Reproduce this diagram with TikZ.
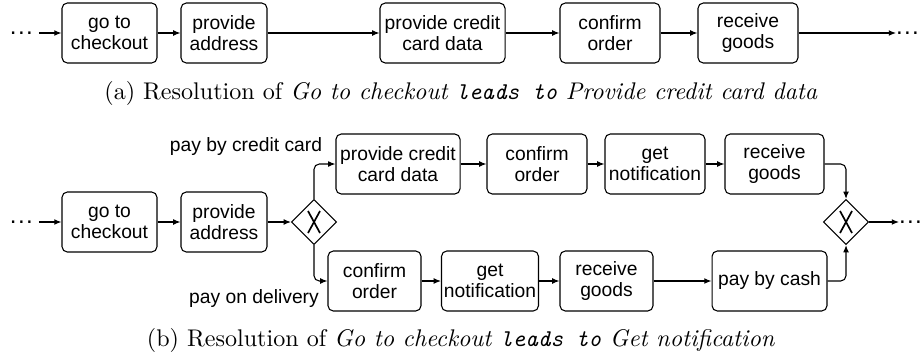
\documentclass[tikz,border=0pt]{standalone}
\usepackage{fontspec}
\newfontfamily\boxfont{Liberation Sans}
\usetikzlibrary{shapes.geometric,arrows.meta,calc}

\newcommand\moredots{.\kern0.55pt.\kern0.55pt.}

\tikzset{
  task/.style={draw, rounded corners=2.2pt, align=center, minimum height=24.9pt, inner sep=1pt,
    font=\boxfont\fontsize{8}{9}\selectfont},
  gate/.style={draw, diamond, minimum width=18.7pt, minimum height=18.7pt, inner sep=0pt,
    path picture={
      \draw[line width=0.7pt] ($(path picture bounding box.center)+(-6,-11)$) -- ($(path picture bounding box.center)+(6,11)$);
      \draw[line width=0.7pt] ($(path picture bounding box.center)+(6,-11)$) -- ($(path picture bounding box.center)+(-6,11)$);
    }},
  flow/.style={-{Latex[length=3pt,width=2.4pt]}, rounded corners=2.2pt},
  dots/.style={inner sep=0pt, outer sep=0pt, anchor=base west, font=\boxfont\fontsize{10}{12}\selectfont},
  cond/.style={font=\boxfont\fontsize{8}{9}\selectfont}
}

\begin{document}
\begin{tikzpicture}[x=0.415pt,y=-0.415pt,line width=0.45pt]
\useasboundingbox (0,0) rectangle (922,360);

% (a) one path
\node[dots] (ina) at (10,34.3) {\moredots};
\node[task, minimum width=39.4pt] (goa) at (109.5,33) {go to\\checkout};
\node[task, minimum width=35.7pt] (pra) at (224,33) {provide\\address};
\node[task, minimum width=51.9pt] (cca) at (442.5,33) {provide credit\\card data};
\node[task, minimum width=41.5pt] (coa) at (610,33) {confirm\\order};
\node[task, minimum width=41.5pt] (rga) at (748,33) {receive\\goods};
\node[dots] (outa) at (896,34.3) {\moredots};

\draw[flow, shorten <=2.5pt] (ina.east |- goa) -- (goa);
\draw[flow] (goa) -- (pra);
\draw[flow] (pra) -- (cca);
\draw[flow] (cca) -- (coa);
\draw[flow] (coa) -- (rga);
\draw[flow] (rga) -- (rga -| outa.west);

\node (capa) at (461,93) {(a) Resolution of \textit{Go to checkout \texttt{leads to} Provide credit card data}};

% (b) split on payment
\node[dots] (inb) at (10,223.3) {\moredots};
\node[task, minimum width=39.4pt] (gob) at (109.5,222) {go to\\checkout};
\node[task, minimum width=35.7pt] (prb) at (224,222) {provide\\address};
\node[gate] (split) at (314,222) {};

\node[task, minimum width=51.5pt] (ccb) at (398,164) {provide credit\\card data};
\node[task, minimum width=41.5pt] (cob) at (537,164) {confirm\\order};
\node[task, minimum width=41.5pt] (ntb) at (655,164) {get\\notification};
\node[task, minimum width=41.1pt] (rgb) at (774.5,164) {receive\\goods};

\node[task, minimum width=38.6pt] (cod) at (374.5,281) {confirm\\order};
\node[task, minimum width=39pt] (ntd) at (490,281) {get\\notification};
\node[task, minimum width=38.6pt] (rgd) at (606.5,281) {receive\\goods};
\node[task, minimum width=47.7pt] (cash) at (769.5,281) {pay by cash};

\node[gate] (merge) at (846,222) {};
\node[dots] (outb) at (899,223.3) {\moredots};

\node[cond] (lcc) at (246,147) {pay by credit card};
\node[cond] (ldel) at (254,299) {pay on delivery};

\draw[flow, shorten <=2.5pt] (inb.east |- gob) -- (gob);
\draw[flow] (gob) -- (prb);
\draw[flow] (prb) -- (split);
\draw[flow] (split.north) |- (ccb);
\draw[flow] (split.south) |- (cod);
\draw[flow] (ccb) -- (cob);
\draw[flow] (cob) -- (ntb);
\draw[flow] (ntb) -- (rgb);
\draw[flow] (rgb) -| (merge.north);
\draw[flow] (cod) -- (ntd);
\draw[flow] (ntd) -- (rgd);
\draw[flow] (rgd) -- (cash);
\draw[flow] (cash) -| (merge.south);
\draw[flow] (merge) -- (merge -| outb.west);

\node (capb) at (461,340) {(b) Resolution of \textit{Go to checkout \texttt{leads to} Get notification}};

\end{tikzpicture}
\end{document}
